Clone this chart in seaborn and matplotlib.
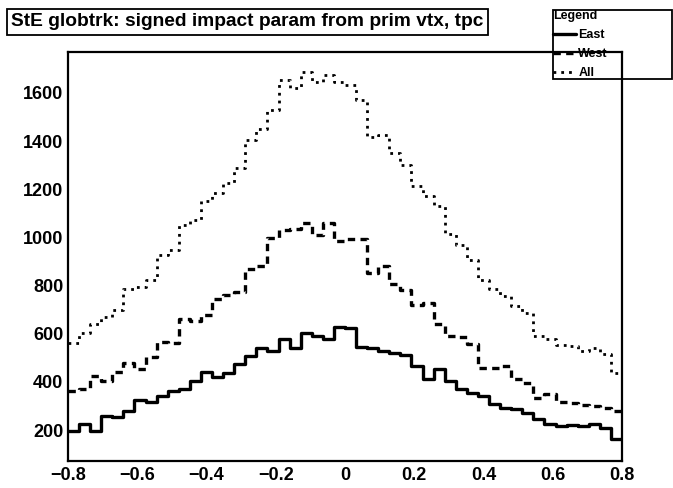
import numpy as np
import pandas as pd
import matplotlib
matplotlib.use("Agg")
import matplotlib.pyplot as plt
from matplotlib.lines import Line2D
from matplotlib.ticker import MultipleLocator
import seaborn as sns

sns.set_style("white")
plt.rcParams["font.family"] = ["Liberation Sans", "DejaVu Sans"]
plt.rcParams["font.weight"] = "bold"
plt.rcParams["text.color"] = "black"
plt.rcParams["xtick.color"] = "black"
plt.rcParams["ytick.color"] = "black"

# histogram range and binning (50 bins)
x_lo, x_hi, n_bins = -0.8, 0.8, 50

east = [197, 225, 197, 260, 255, 280, 325, 317, 342, 363,
        370, 404, 441, 422, 439, 473, 508, 543, 529, 577,
        540, 605, 591, 580, 630, 625, 545, 540, 529, 519,
        511, 466, 411, 455, 404, 370, 356, 342, 308, 290,
        288, 273, 246, 225, 218, 221, 216, 225, 211, 163]
west = [363, 370, 425, 404, 441, 480, 453, 505, 566, 562,
        660, 652, 678, 743, 763, 772, 870, 880, 998, 1032,
        1035, 1062, 1012, 1062, 984, 995, 995, 853, 880, 805,
        781, 718, 729, 639, 590, 588, 556, 460, 460, 466,
        411, 397, 335, 349, 317, 314, 304, 300, 290, 280]
all_trk = [563, 605, 639, 670, 700, 784, 795, 825, 929, 950,
           1053, 1074, 1150, 1185, 1226, 1288, 1405, 1452, 1530, 1654,
           1620, 1689, 1645, 1675, 1647, 1633, 1571, 1419, 1426, 1350,
           1302, 1212, 1171, 1129, 1015, 970, 908, 825, 784, 756,
           715, 688, 591, 577, 552, 549, 529, 543, 515, 439]

edges = np.linspace(x_lo, x_hi, n_bins + 1)

W, H = 673, 488
fig = plt.figure(figsize=(W / 100, H / 100), dpi=100)
fig.patch.set_facecolor("white")
ax = fig.add_axes([68 / W, 1 - 461 / H, (622 - 68) / W, (461 - 52) / H])
ax.patch.set_alpha(0)

styles = [
    ("East", east, "-", 2.4),
    ("West", west, (0, (2.2, 1.6)), 2.4),
    ("All", all_trk, (0, (1, 1.8)), 2.0),
]
handles = []
for name, vals, ls, lw in styles:
    df = pd.DataFrame({"x": edges, "count": list(vals) + [vals[-1]]})
    sns.lineplot(data=df, x="x", y="count", ax=ax, color="black",
                 drawstyle="steps-post", estimator=None, sort=False,
                 linestyle=ls, linewidth=lw)
    handles.append(Line2D([], [], color="black", linestyle=ls, linewidth=lw))

ax.set_xlim(x_lo, x_hi)
ax.set_ylim(72, 1770)
ax.set_xlabel("")
ax.set_ylabel("")
ax.xaxis.set_minor_locator(MultipleLocator(0.04))
ax.yaxis.set_major_locator(MultipleLocator(200))
ax.yaxis.set_minor_locator(MultipleLocator(50))
ax.set_xticks(np.arange(-0.8, 0.81, 0.2))
ax.set_xticklabels(["\u22120.8", "\u22120.6", "\u22120.4", "\u22120.2", "0",
                    "0.2", "0.4", "0.6", "0.8"])
ax.tick_params(which="both", direction="in", top=False, right=False,
               width=1.2, labelsize=13, colors="black")
ax.tick_params(which="major", length=11.5)
ax.tick_params(which="minor", length=5.5)
ax.tick_params(axis="x", pad=4.5)
ax.tick_params(axis="y", pad=3.5)
for sp in ax.spines.values():
    sp.set_linewidth(1.6)
    sp.set_color("black")

fig.text(11 / W, 1 - 22 / H,
         "StE globtrk: signed impact param from prim vtx, tpc",
         ha="left", va="center", fontsize=13.8, fontweight="bold",
         color="black",
         bbox=dict(boxstyle="square,pad=0.22", fc="white", ec="black", lw=1.3))

leg = fig.legend(handles, ["East", "West", "All"],
                 loc="upper left",
                 bbox_to_anchor=(553 / W, 1 - 81 / H, 119 / W, 71 / H),
                 mode="expand", title="Legend", alignment="left",
                 prop={"weight": "bold", "size": 9},
                 title_fontproperties={"weight": "bold", "size": 9},
                 handlelength=1.8, handletextpad=0.2, labelspacing=0.55,
                 borderpad=0.02, borderaxespad=0, fancybox=False,
                 framealpha=1, edgecolor="black")
leg.get_frame().set_linewidth(1.3)
leg.set_zorder(-1)
for t in leg.get_texts():
    t.set_color("black")
leg.get_title().set_color("black")

fig.savefig("out.png", dpi=100, facecolor="white")
